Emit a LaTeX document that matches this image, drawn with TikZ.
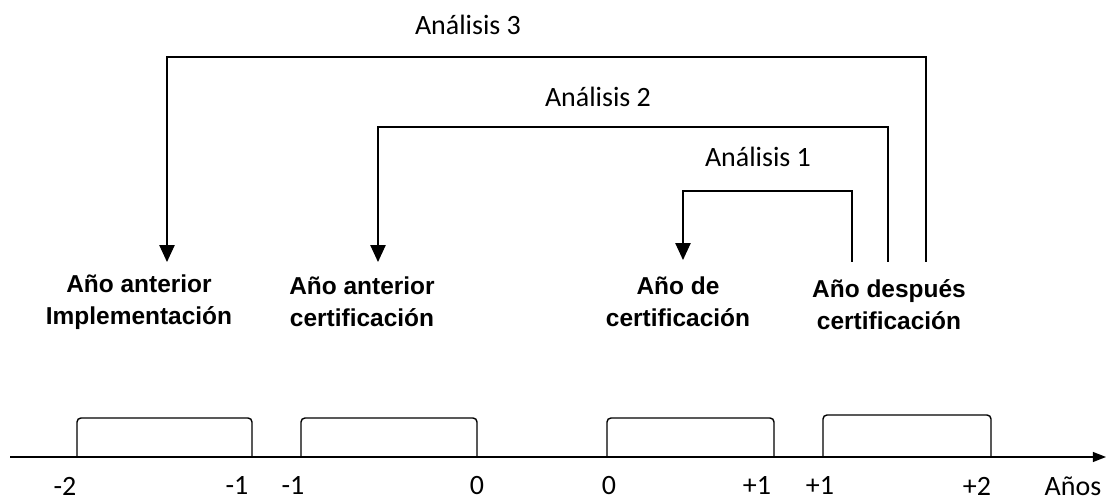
\documentclass[tikz,border=0pt]{standalone}
\usepackage{fontspec}
\setmainfont{Carlito}
\newfontfamily\etiqfont{Liberation Sans}
\usetikzlibrary{arrows.meta}
\tikzset{
    periodo/.style={line width=1pt, rounded corners=0.1cm},
    analisis/.style={line width=0.9pt, -{Triangle[width=0.38cm,length=0.42cm]}},
    anio/.style={font=\etiqfont\bfseries\fontsize{17.4}{22.5}\selectfont, align=center, inner sep=0pt},
    texto/.style={font=\fontsize{19.9}{24}\selectfont, inner sep=0pt}
}
\begin{document}
\begin{tikzpicture}
        \useasboundingbox (0,0) rectangle (27.7,12.45);
        % eje de tiempo
        \coordinate (ejeA) at (0.25,1.025);
        \coordinate (ejeB) at (27.65,1.025);
        \draw [line width=1pt, -{Triangle[width=0.25cm,length=0.33cm]}] (ejeA) -- (ejeB);
        \foreach \a/\b/\t in {1.925/6.3/2.0, 7.525/11.925/2.0, 15.175/19.35/2.0, 20.575/24.775/2.075}
            {\draw [periodo] (\a,1.025) |- (\b,\t) -- (\b,1.025);}
        \foreach \x/\l [count=\i] in {1.625/-2, 5.925/-1, 7.325/-1, 11.925/0, 15.225/0, 18.925/+1, 20.5/+1, 24.425/+2}
            {\path (\x,0.3) node [texto] (t\i) {\l};}
        \path (26.825,0.3) node [texto] (anios) {Años};
        % periodos
        \path (3.475,4.9) node [anio] (implem) {Año anterior\\Implementación};
        \path (9.05,4.9) node [anio] (antcert) {Año anterior\\certificación};
        \path (16.95,4.9) node [anio] (cert) {Año de\\certificación};
        \path (22.225,4.83) node [anio] (despcert) {Año después\\certificación};
        % analisis
        \coordinate (ini1) at (21.3,5.9);
        \coordinate (fin1) at (17.075,5.95);
        \coordinate (ini2) at (22.2,5.9);
        \coordinate (fin2) at (9.45,5.9);
        \coordinate (ini3) at (23.15,5.9);
        \coordinate (fin3) at (4.175,5.9);
        \draw [analisis] (ini1) -- (21.3,7.675) -| (fin1);
        \draw [analisis] (ini2) -- (22.2,9.275) -| (fin2);
        \draw [analisis] (ini3) -- (23.15,11.025) -| (fin3);
        \path (18.95,8.525) node [texto] (an1) {Análisis 1};
        \path (14.95,10.025) node [texto] (an2) {Análisis 2};
        \path (11.7,11.825) node [texto] (an3) {Análisis 3};
    \end{tikzpicture}
\end{document}
